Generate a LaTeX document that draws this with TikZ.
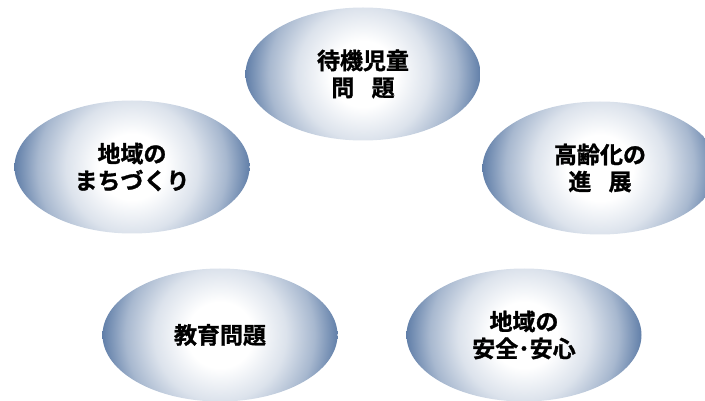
\documentclass[tikz,border=0pt]{standalone}
\usepackage{fontspec}
\newfontfamily\jp[BoldFont={Noto Sans CJK JP Bold}, BoldFeatures={FakeBold=1.2}]{Noto Sans CJK JP}
\usetikzlibrary{shapes.geometric}
\definecolor{edgeblue}{RGB}{96,126,168}
\pgfdeclareradialshading{blobshade}{\pgfpointorigin}{color(0bp)=(white); color(7bp)=(white); color(14bp)=(edgeblue!22!white); color(20bp)=(edgeblue!55!white); color(25bp)=(edgeblue); color(50bp)=(edgeblue)}
\tikzset{
  blob/.style={ellipse, minimum width=235pt, minimum height=133pt, inner sep=0pt,
    align=center, font=\jp\bfseries\fontsize{23}{27}\selectfont, text=black,
    path picture={\shade[shading=blobshade] ([shift={(-118pt,-118pt)}]path picture bounding box.center) rectangle ++(236pt,236pt);}}
}
\begin{document}
\begin{tikzpicture}[x=1pt,y=-1pt]
\useasboundingbox (0,0) rectangle (705,401);
\node[blob] (wait) at (363,74) {待機児童\\問\hspace{0.75em}題};
\node[blob] (aging) at (600,168) {高齢化の\\進\hspace{0.75em}展};
\node[blob] (safety) at (524,335) {地域の\\安全･安心};
\node[blob] (town) at (132,167) {地域の\\まちづくり};
\node[blob] (edu) at (220,335) {教育問題};
\end{tikzpicture}
\end{document}
